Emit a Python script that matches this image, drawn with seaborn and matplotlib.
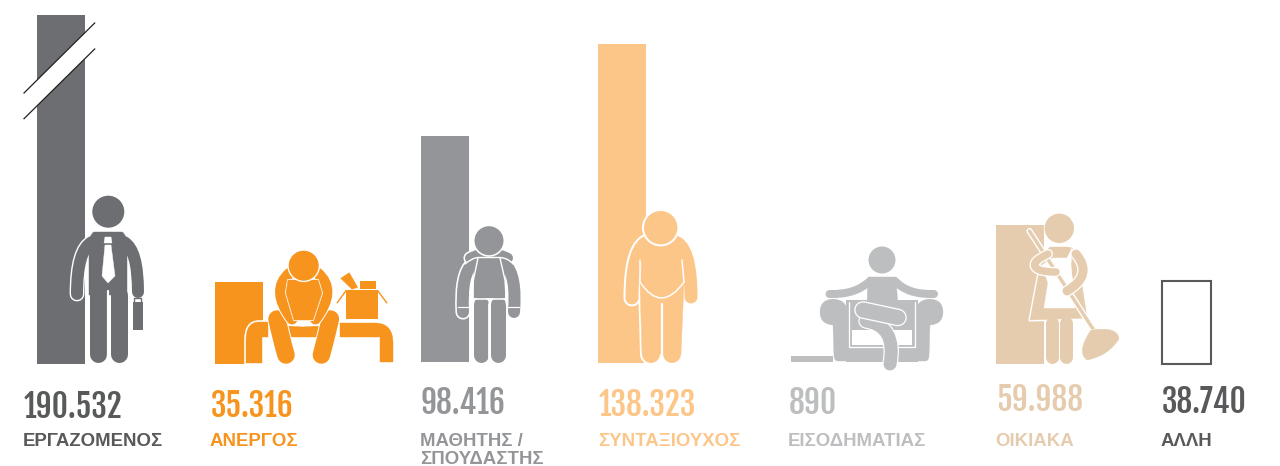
import matplotlib
matplotlib.use("Agg")
import matplotlib.pyplot as plt
from matplotlib.patches import Circle, PathPatch, Polygon, Rectangle
from matplotlib.path import Path
import seaborn as sns

# -----------------------------
# 1. Data
# -----------------------------
categories = ["ΕΡΓΑΖΟΜΕΝΟΣ", "ΑΝΕΡΓΟΣ", "ΜΑΘΗΤΗΣ / ΣΠΟΥΔΑΣΤΗΣ", "ΣΥΝΤΑΞΙΟΥΧΟΣ",
              "ΕΙΣΟΔΗΜΑΤΙΑΣ", "ΟΙΚΙΑΚΑ", "ΑΛΛΗ"]
value_labels = ["190.532", "35.316", "98.416", "138.323", "890", "59.988", "38.740"]
# heights as drawn; the first bar is cut off by the top of the axes
bar_heights = [190532, 35316, 98416, 138323, 3400, 59988, 35900]
bar_centers = [61, 239, 445, 622, 815, 1020, 1186.5]
colors = ["#6d6e71", "#f7941e", "#939598", "#fdc689", "#bcbec0", "#e6ccae", "#ffffff"]
text_colors = ["#58595b", "#f7941e", "#939598", "#fdc689", "#bcbec0", "#e6ccae", "#58595b"]

label_lines = [["ΕΡΓΑΖΟΜΕΝΟΣ"], ["ΑΝΕΡΓΟΣ"], ["ΜΑΘΗΤΗΣ /", "ΣΠΟΥΔΑΣΤΗΣ"], ["ΣΥΝΤΑΞΙΟΥΧΟΣ"],
               ["ΕΙΣΟΔΗΜΑΤΙΑΣ"], ["ΟΙΚΙΑΚΑ"], ["ΑΛΛΗ"]]
text_x = [24, 211, 421, 599, 789, 996, 1162]
number_y = [418, 417, 414, 416, 414, 411, 413]

# -----------------------------
# 2. Bars
# -----------------------------
fig = plt.figure(figsize=(12.8, 4.66), dpi=100)
ax = fig.add_axes([0, (466 - 364) / 466, 1, 349 / 466])
sns.barplot(x=bar_centers, y=bar_heights, hue=categories, palette=colors, hue_order=categories,
            native_scale=True, dodge=False, legend=False, width=48 / 165.5,
            saturation=1, ax=ax, linewidth=0)
ax.set_xlim(0, 1280)
ax.set_ylim(0, 349 * 138323 / 320)
ax.axis("off")

# hollow last bar
ax.patches[6].set_edgecolor("#58595b")
ax.patches[6].set_linewidth(1.5)
ax.patches[6].set_clip_on(False)

# -----------------------------
# 3. Overlay in pixel coordinates: break mark, icons, text
# -----------------------------
ov = fig.add_axes([0, 0, 1, 1])
ov.set_xlim(0, 1280)
ov.set_ylim(466, 0)
ov.axis("off")
ov.patch.set_alpha(0)

PX = 72 / fig.dpi


def make_path(d):
    tok = d.split()
    verts, codes = [], []
    i = 0
    while i < len(tok):
        t = tok[i]
        if t == "M" or t == "L":
            verts.append((float(tok[i + 1]), float(tok[i + 2])))
            codes.append(Path.MOVETO if t == "M" else Path.LINETO)
            i += 3
        elif t == "Q":
            verts += [(float(tok[i + 1]), float(tok[i + 2])), (float(tok[i + 3]), float(tok[i + 4]))]
            codes += [Path.CURVE3, Path.CURVE3]
            i += 5
        else:  # Z
            verts.append(verts[-1])
            codes.append(Path.CLOSEPOLY)
            i += 1
    return Path(verts, codes)


def fill(d, c, z=5, halo=1.6):
    p = make_path(d)
    if halo:
        ov.add_patch(PathPatch(p, fc="white", ec="white", lw=2 * halo * PX, joinstyle="round", zorder=z))
    ov.add_patch(PathPatch(p, fc=c, ec=c, lw=0.3, zorder=z + 0.5))


def limb(d, w, c, z=5, halo=1.6):
    p = make_path(d)
    if halo:
        ov.add_patch(PathPatch(p, fc="none", ec="white", lw=(w + 2 * halo) * PX, capstyle="round",
                               joinstyle="round", zorder=z))
    ov.add_patch(PathPatch(p, fc="none", ec=c, lw=w * PX, capstyle="round", joinstyle="round", zorder=z + 0.5))


def head(x, y, r, c, z=7, halo=1.6):
    ov.add_patch(Circle((x, y), r + halo, fc="white", ec="none", zorder=z))
    ov.add_patch(Circle((x, y), r, fc=c, ec="none", zorder=z + 0.5))


def white_line(d, z=8, w=1.4):
    ov.add_patch(PathPatch(make_path(d), fc="none", ec="white", lw=w * PX, capstyle="round", zorder=z))


# small trims where a bar stops a little above the common baseline
ov.add_patch(Rectangle((419, 362), 52, 4, fc="white", ec="none", zorder=1))
ov.add_patch(Rectangle((596, 363), 52, 3, fc="white", ec="none", zorder=1))
ov.add_patch(Rectangle((788, 362), 54, 4, fc="white", ec="none", zorder=1))
ov.add_patch(Rectangle((833, 350), 10, 16, fc="white", ec="none", zorder=1))

# break mark on the first bar
ov.add_patch(Polygon([(24, 93), (94.7, 23), (94.7, 49), (24, 118.7)], fc="white", ec="none", zorder=2))
ov.plot([24, 94.7], [93, 23], color="#231f20", lw=0.9, zorder=3)
ov.plot([24, 94.7], [118.7, 49], color="#231f20", lw=0.9, zorder=3)

# worker
c = colors[0]
limb("M 92 242 Q 77 250 77 294", 12, c, halo=1.4)
limb("M 124 242 Q 138 250 138 292", 12, c, halo=1.4)
fill("M 94 232 L 122 232 Q 127 234 127 250 L 127 295 L 89 295 L 89 250 Q 89 234 94 232 Z", c, halo=1.4)
limb("M 97.5 295 L 97.5 354", 17, c, halo=1.4)
limb("M 118.5 295 L 118.5 354", 17, c, halo=1.4)
white_line("M 108 291 L 108 364", z=6, w=2.2)
fill("M 105 237 L 111 237 L 112 243 L 104 243 Z", "white", z=7, halo=0)
fill("M 105 245 L 111 245 L 115 276 L 108 283 L 102 276 Z", "white", z=7, halo=0)
ov.add_patch(Rectangle((132.5, 302), 10.5, 28, fc=c, ec="none", zorder=6))
ov.plot([134, 134, 141, 141], [302, 298, 298, 302], color=c, lw=1, zorder=6)
head(108.3, 211.7, 16, c, halo=0)

# unemployed on a bench
c = colors[1]
fill("M 340 323 L 375 323 Q 393 323 393 343 L 393 362 L 380 362 L 380 337 L 340 337 Z", c, z=3, halo=0)
fill("M 268 322 L 259 322 Q 246 322 246 340 L 246 363 L 262 363 L 262 337 L 268 337 Z", c, z=3, halo=1.8)
fill("M 287 326 L 303 327 L 320 326 L 320 337 L 287 337 Z", c, z=4, halo=0)
limb("M 277 319 Q 281 338 286 355", 17.5, c, z=5, halo=1)
limb("M 330.4 319 Q 326 338 321.4 355", 17.5, c, z=5, halo=1)
limb("M 290 273 Q 270 290 292 319", 11, c, z=6, halo=1)
limb("M 317.4 273 Q 337.4 290 315.4 319", 11, c, z=6, halo=1)
fill("M 288 280 L 318 280 L 322 293 L 313 320 L 294 320 L 286 293 Z", c, z=7, halo=1)
head(303.7, 265.7, 15, c, z=8, halo=1.4)
ov.add_patch(Rectangle((346, 290), 31.7, 29.3, fc=c, ec="none", zorder=5))
ov.add_patch(Rectangle((360, 281), 15.7, 8, fc=c, ec="none", zorder=5))
fill("M 340.7 278.3 L 349.3 272.7 L 357.7 287.3 L 352 289.3 Z", c, halo=0)
ov.plot([346, 337.3], [290.7, 302.7], color=c, lw=1, zorder=5)
ov.plot([377.7, 386.7], [290.7, 302.7], color=c, lw=1, zorder=5)

# student with a backpack
c = colors[2]
limb("M 473 264 Q 461 273 463 312", 12, c)
limb("M 505 264 Q 517 275 514 312", 12, c)
limb("M 470 258 Q 489 248 508 258", 10, c)
fill("M 473.5 258 L 505 258 L 505 298 L 473.5 298 Z", c)
limb("M 481 304 L 481 354.5", 15, c)
limb("M 497.5 304 L 497.5 354.5", 15, c)
white_line("M 465 264 Q 472 258 478 257.5 L 500 257.5 Q 508 258 513 264")
white_line("M 478 258 L 473 282 L 472 312")
white_line("M 500 258 L 505 280 L 507 312")
white_line("M 473.5 299 L 505 299", w=1.6)
white_line("M 489 304 L 489 363", w=1.8)
white_line("M 458 307 L 469 307", w=1.2)
white_line("M 508 307 L 519 307", w=1.2)
head(489, 240.7, 14.5, c, z=9)

# pensioner
c = colors[3]
limb("M 650 241 Q 632 245 632 298", 13, c, halo=2)
limb("M 673 241 Q 691 245 691 297", 13, c, halo=2)
fill("M 644 238 L 680 238 L 684 282 L 681 354 L 642 354 L 640 282 Z", c, halo=2)
limb("M 651 300 L 651 353.5", 18, c, halo=2)
limb("M 672 300 L 672 353.5", 18, c, halo=2)
white_line("M 661.7 304 L 661.7 364", w=2.2)
white_line("M 640 282 Q 661 314 684 282", w=1.5)
white_line("M 640 260 L 640 282", w=1.5)
white_line("M 682 260 L 684 282", w=1.5)
head(660.7, 227.7, 16.7, c, z=9, halo=2)

# rentier in an armchair
c = colors[4]
fill("M 820 312 Q 820 300 833 299 Q 847 300 847 312 L 847 361 L 838 361 Q 834 361 834 355 L 833 325 Q 820 324 820 312 Z", c, z=3, halo=0)
fill("M 943 312 Q 943 300 930 299 Q 916 300 916 312 L 916 361 L 925 361 Q 929 361 929 355 L 930 325 Q 943 324 943 312 Z", c, z=3, halo=0)
ov.add_patch(Rectangle((846, 300), 72, 62, fc=c, ec="none", zorder=3))
white_line("M 848.5 302 L 848.5 347 L 915 347 L 915 302", z=4, w=1.3)
ov.add_patch(Rectangle((851.7, 330), 60, 15, fc="white", ec="none", zorder=4))
limb("M 829.5 294 Q 855 295 870 281", 8, c, z=5, halo=1)
limb("M 934 294 Q 908 295 895 281", 8, c, z=5, halo=1)
fill("M 868 277 L 896 277 L 898 308 L 867 305 Z", c, z=5, halo=0)
limb("M 866 321 Q 897 326 890 364", 13, c, z=6, halo=1.2)
limb("M 863 310 L 898 317.5", 15, c, z=7, halo=1.3)
head(882, 260, 13.5, c, z=8, halo=0)

# housewife with a broom
c = colors[5]
fill("M 1050 247 L 1068 247 L 1072 248 L 1085 265 L 1082 285 L 1087 318 L 1030 320 L 1040 267 L 1047 250 Z", c, z=4)
limb("M 1052 323 L 1052 357", 13, c, z=4, halo=1.2)
limb("M 1066 323 L 1066 357", 13, c, z=4, halo=1.2)
fill("M 1053 258 L 1067 258 L 1072 248 L 1071 265 L 1075 308 L 1044 308 L 1048 283 L 1042 265 Z", "white", z=5, halo=0)
limb("M 1029.5 231 L 1095 332", 3.4, c, z=7, halo=1.4)
limb("M 1048 254 Q 1030 262 1036 268 Q 1040 272 1056 272", 7.5, c, z=8, halo=1.3)
limb("M 1076 254 Q 1094 275 1067 291", 9, c, z=8, halo=1.3)
fill("M 1091 330 Q 1118 326 1119 339 Q 1108 356 1087 360 Q 1076 352 1091 330 Z", c, z=8, halo=0.8)
head(1059.3, 228.3, 14.7, c, z=9, halo=0.8)

# numbers and labels
for name_lines, val, x, y, col in zip(label_lines, value_labels, text_x, number_y, text_colors):
    ov.text(x, y, val, color=col, fontsize=22.7, va="baseline", ha="left",
            family=["Fjalla One", "Oswald", "Liberation Sans"], zorder=10)
    for j, line in enumerate(name_lines):
        ov.text(x - 1, 446 + 18.5 * j, line, color=col, fontsize=13.4, fontweight="bold", va="baseline",
                ha="left", family=["Liberation Sans", "DejaVu Sans"], zorder=10)

fig.savefig("out.png", dpi=100, facecolor="white")
